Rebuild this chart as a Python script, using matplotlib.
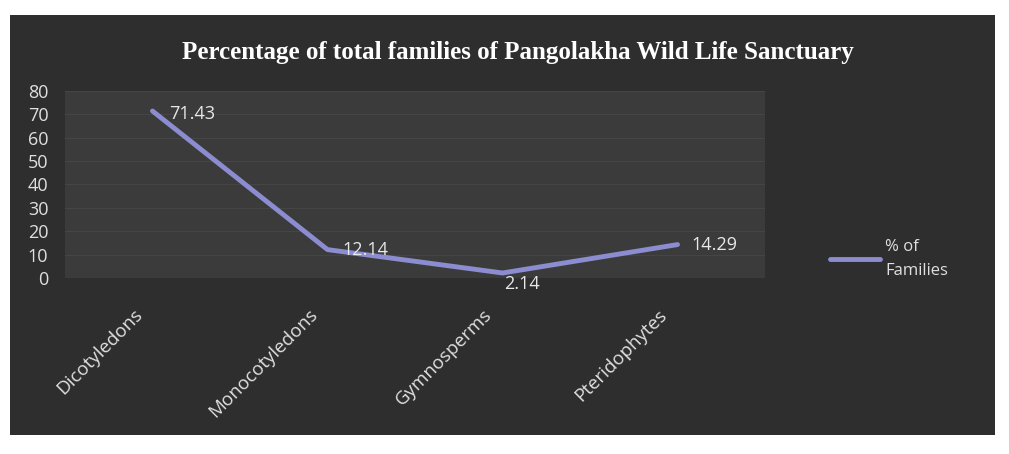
import numpy as np
import matplotlib
matplotlib.use('Agg')
import matplotlib.pyplot as plt
import matplotlib.transforms as mtrans
from matplotlib.patches import Rectangle

#data
groups = ['Dicotyledons', 'Monocotyledons', 'Gymnosperms', 'Pteridophytes']
percent = [71.43, 12.14, 2.14, 14.29]
yticks = [0, 10, 20, 30, 40, 50, 60, 70, 80]
series_name = '% of\nFamilies'

#label offsets (points) for each value
offsets = [(12, -2), (11, 0), (1, -8), (10, 0)]

plt.rcParams['font.family'] = ['Open Sans', 'DejaVu Sans']

fig = plt.figure(figsize=(10.09, 4.54), dpi=100, facecolor='white')

#dark panel of the scanned chart
fig.patches.append(Rectangle((0.01, 0.042), 0.976, 0.925, transform=fig.transFigure,
                             facecolor='#2e2e2e', edgecolor='none', zorder=-5))

ax = fig.add_axes([0.0644, 0.3877, 0.6938, 0.4119])
ax.set_facecolor('#3b3b3b')
for s in ax.spines.values():
    s.set_visible(False)

x = np.arange(len(groups))
line, = ax.plot(x, percent, color='#8c8cd0', lw=3.5, solid_capstyle='round', label=series_name)

for i, v in enumerate(percent):
    ax.annotate(f'{v:.2f}', (x[i], v), textcoords='offset points', xytext=offsets[i],
                ha='left', va='center', color='#e8e8e8', fontsize=13)

ax.set_xlim(-0.5, len(groups) - 0.5)
ax.set_ylim(0, 80)
ax.set_yticks(yticks)
ax.yaxis.grid(True, color='#454545', lw=0.8)
ax.set_axisbelow(True)
ax.tick_params(axis='y', length=0, pad=12, labelcolor='#e0e0e0', labelsize=13)
ax.set_xticks(x)
ax.set_xticklabels(groups, rotation=45, ha='right', va='top', rotation_mode='anchor',
                   color='#e0e0e0', fontsize=13.5)
ax.tick_params(axis='x', length=0, pad=20)
shift = mtrans.ScaledTranslation(-14 / 72, 0, fig.dpi_scale_trans)
for lab in ax.get_xticklabels():
    lab.set_transform(lab.get_transform() + shift)

fig.text(0.513, 0.885, 'Percentage of total families of Pangolakha Wild Life Sanctuary',
         ha='center', va='center', color='white', fontsize=18, fontweight='bold',
         family='Liberation Serif')

leg = fig.legend(handles=[line], loc='center left', bbox_to_anchor=(0.808, 0.43),
                 frameon=False, handlelength=3.0, handletextpad=0.3, fontsize=12,
                 labelcolor='#e0e0e0')
leg.get_texts()[0].set_linespacing(1.7)

plt.savefig('out.png', dpi=100, facecolor='white')
